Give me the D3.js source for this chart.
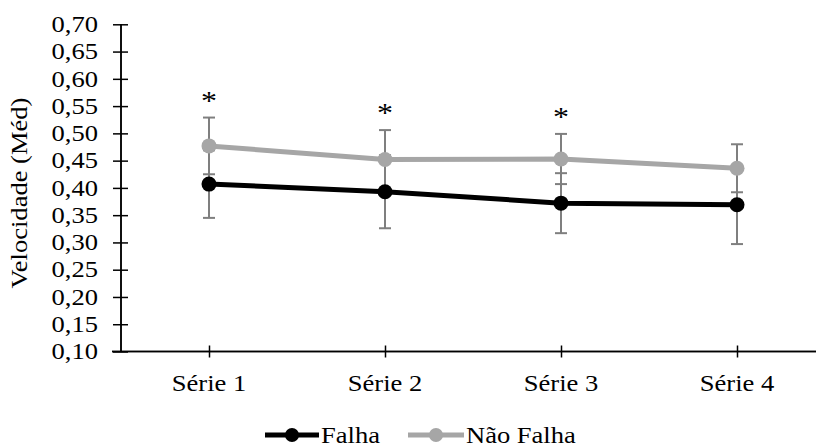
<!DOCTYPE html>
<html>
<head>
<meta charset="utf-8">
<script src="https://cdn.jsdelivr.net/npm/d3@7"></script>
<style>
  html, body { margin: 0; padding: 0; background: #fff; }
  svg { display: block; }
  svg text { font-family: 'Liberation Serif', 'Times New Roman', serif; fill: #000; }
</style>
</head>
<body>
<svg id="chart" width="816" height="447"></svg>
<script>
// Series and categories
const categories = ["Série 1", "Série 2", "Série 3", "Série 4"];
const falhaMean = [0.407, 0.393, 0.372, 0.369];
const falhaSD = [0.062, 0.067, 0.055, 0.072];
const naoFalhaMean = [0.477, 0.452, 0.453, 0.436];
const naoFalhaSD = [0.052, 0.054, 0.046, 0.044];
const significant = [true, true, true, false];
const yTicks = [0.10, 0.15, 0.20, 0.25, 0.30, 0.35, 0.40, 0.45, 0.50, 0.55, 0.60, 0.65, 0.70];
const seriesNames = ["Falha", "Não Falha"];
const yTitle = "Velocidade (Méd)";

const W = 816, H = 447;
const plotLeft = 121, plotTop = 24.3, plotBottom = 351.5, plotRight = 825;
const FS = 22.5;      // font size
const SX = 1.18;      // horizontal text stretch
const colors = { Falha: "#000000", "Não Falha": "#a6a6a6" };
const errColor = "#7f7f7f";

const svg = d3.select("#chart");

const x = d3.scalePoint().domain(categories).range([plotLeft, plotRight]).padding(0.5);
const y = d3.scaleLinear().domain([0.10, 0.70]).range([plotBottom, plotTop]);
const fmt = d3.formatLocale({ decimal: ",", thousands: ".", grouping: [3], currency: ["", ""] }).format(".2f");

// stretched text helper
function stretchedText(g, tx, ty, str, anchor, size) {
  return g.append("text")
    .attr("transform", `translate(${tx},${ty}) scale(${SX},1)`)
    .attr("text-anchor", anchor || "start")
    .attr("font-size", size || FS)
    .text(str);
}

// Y axis: outer ticks with labels, inner ticks without
const yAxisG = svg.append("g").attr("transform", `translate(${plotLeft},0)`);
yAxisG.call(d3.axisLeft(y).tickValues(yTicks).tickSize(8).tickFormat(fmt).tickPadding(15));
yAxisG.append("g").call(d3.axisLeft(y).tickValues(yTicks).tickSize(-7).tickFormat(""));
yAxisG.selectAll(".domain").attr("stroke", "#000").attr("stroke-width", 1.5)
  .attr("d", `M0,${y(0.70)}V${y(0.10)}`);
yAxisG.selectAll(".tick line").attr("stroke", "#000").attr("stroke-width", 1.5);
yAxisG.selectAll(".tick text")
  .attr("font-size", FS)
  .attr("fill", "#000")
  .each(function () {
    const t = d3.select(this);
    const xv = +t.attr("x");
    t.attr("x", xv / SX).attr("transform", `scale(${SX},1)`);
  });

// X axis
const xAxisG = svg.append("g").attr("transform", `translate(0,${plotBottom})`);
xAxisG.call(d3.axisBottom(x).tickSize(6).tickFormat(""));
xAxisG.append("g").call(d3.axisBottom(x).tickSize(-6).tickFormat(""));
xAxisG.selectAll(".domain").attr("stroke", "#000").attr("stroke-width", 1.5)
  .attr("d", `M${plotLeft - 9},0H${W}`);
xAxisG.selectAll(".tick line").attr("stroke", "#000").attr("stroke-width", 1.5);

// Category labels
categories.forEach(c => stretchedText(svg, x(c), 391, c, "middle"));

// Y title
svg.append("text")
  .attr("transform", `translate(27,193) rotate(-90) scale(${SX},1)`)
  .attr("text-anchor", "middle")
  .attr("font-size", FS)
  .text(yTitle);

const series = [
  { name: "Falha", mean: falhaMean, sd: falhaSD },
  { name: "Não Falha", mean: naoFalhaMean, sd: naoFalhaSD }
];

// Error bars
const capHalf = 6;
series.forEach(s => {
  const g = svg.append("g").attr("stroke", errColor).attr("stroke-width", 2).attr("fill", "none");
  categories.forEach((c, i) => {
    const cx = x(c);
    const y1 = y(s.mean[i] + s.sd[i]);
    const y2 = y(s.mean[i] - s.sd[i]);
    g.append("line").attr("x1", cx).attr("x2", cx).attr("y1", y1).attr("y2", y2);
    g.append("line").attr("x1", cx - capHalf).attr("x2", cx + capHalf).attr("y1", y1).attr("y2", y1);
    g.append("line").attr("x1", cx - capHalf).attr("x2", cx + capHalf).attr("y1", y2).attr("y2", y2);
  });
});

// Lines and markers
const line = d3.line().x((d, i) => x(categories[i])).y(d => y(d));
series.forEach(s => {
  svg.append("path")
    .datum(s.mean)
    .attr("d", line)
    .attr("fill", "none")
    .attr("stroke", colors[s.name])
    .attr("stroke-width", 5)
    .attr("stroke-linejoin", "round");
  svg.selectAll(null)
    .data(s.mean)
    .enter().append("circle")
    .attr("cx", (d, i) => x(categories[i]))
    .attr("cy", d => y(d))
    .attr("r", 7.5)
    .attr("fill", colors[s.name]);
});

// Significance markers
categories.forEach((c, i) => {
  if (!significant[i]) return;
  stretchedText(svg, x(c), y(naoFalhaMean[i] + naoFalhaSD[i]) - 8, "*", "middle", 27);
});

// Legend
const legendY = 435;
const legendItems = [
  { name: seriesNames[0], x0: 265, x1: 319, tx: 321 },
  { name: seriesNames[1], x0: 408, x1: 464, tx: 466 }
];
legendItems.forEach(it => {
  svg.append("line")
    .attr("x1", it.x0).attr("x2", it.x1)
    .attr("y1", legendY).attr("y2", legendY)
    .attr("stroke", colors[it.name]).attr("stroke-width", 5);
  svg.append("circle")
    .attr("cx", (it.x0 + it.x1) / 2).attr("cy", legendY).attr("r", 7)
    .attr("fill", colors[it.name]);
  stretchedText(svg, it.tx, legendY + 8, it.name, "start");
});
</script>
</body>
</html>
